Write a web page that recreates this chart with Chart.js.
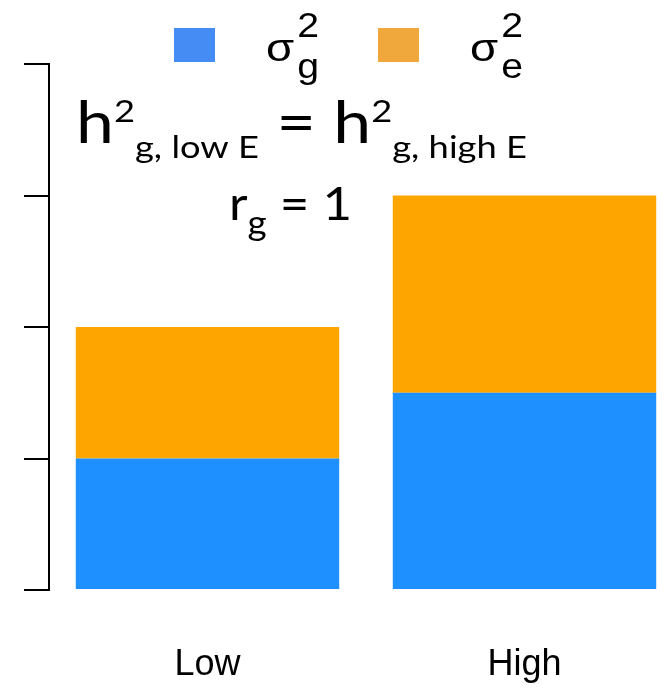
<!DOCTYPE html>
<html>
<head>
<meta charset="utf-8">
<script src="https://cdn.jsdelivr.net/npm/chart.js@4/dist/chart.umd.min.js"></script>
<style>
  html, body { margin: 0; padding: 0; background: #fff; overflow: hidden; }
  #wrap { position: relative; width: 700px; height: 742px; }
</style>
</head>
<body>
<div id="wrap"><canvas id="chart"></canvas></div>
<script>
// Environment groups on the x axis
const categories = ['Low', 'High'];
// Variance components stacked in each group
const geneticVariance = [1, 1.5];
const environmentalVariance = [1, 1.5];
// y-axis range (unlabelled tick marks every unit)
const yMin = 0;
const yMax = 4;
const yStep = 1;

// Legend symbols: sigma with superscript 2 and a subscript
const seriesSymbols = [
  { base: 'σ', sup: '2', sub: 'g' },
  { base: 'σ', sup: '2', sub: 'e' }
];
const barColors = ['#1E90FF', '#FFA500'];
const swatchColors = ['#468CF5', '#F0A83C'];

const ANNOT_FONT = 'Lato, "Open Sans", sans-serif';
const LEGEND_FONT = '"Liberation Sans", Arial, Helvetica, sans-serif';

// draw a sequence of text runs (for super/subscripts), optionally fitted to a width
function runsWidth(ctx, runs, family) {
  let w = 0;
  for (const r of runs) {
    ctx.font = r.size + 'px ' + family;
    w += ctx.measureText(r.text).width;
  }
  return w;
}
function drawRuns(ctx, x, runs, family, stretch) {
  ctx.save();
  ctx.translate(x, 0);
  ctx.scale(stretch, 1);
  ctx.fillStyle = '#000';
  ctx.textBaseline = 'alphabetic';
  ctx.textAlign = 'left';
  let cx = 0;
  for (const r of runs) {
    ctx.font = r.size + 'px ' + family;
    ctx.fillText(r.text, cx, r.y);
    cx += ctx.measureText(r.text).width;
  }
  ctx.restore();
}

// Heritability statement written above the bars
const annotationPlugin = {
  id: 'heritabilityText',
  afterDraw(chart) {
    const ctx = chart.ctx;
    const line1 = [
      { text: 'h', size: 58, y: 143 },
      { text: '2', size: 31, y: 122 },
      { text: 'g, low E', size: 31, y: 158 },
      { text: ' = ', size: 58, y: 143 },
      { text: 'h', size: 58, y: 143 },
      { text: '2', size: 31, y: 122 },
      { text: 'g, high E', size: 31, y: 158 }
    ];
    const line2 = [
      { text: 'r', size: 47, y: 220 },
      { text: 'g', size: 34, y: 235 },
      { text: ' = 1', size: 47, y: 220 }
    ];
    const l1x0 = 76, l1x1 = 527;
    const l2x0 = 229, l2x1 = 352;
    drawRuns(ctx, l1x0, line1, ANNOT_FONT, (l1x1 - l1x0) / runsWidth(ctx, line1, ANNOT_FONT));
    drawRuns(ctx, l2x0, line2, ANNOT_FONT, (l2x1 - l2x0) / runsWidth(ctx, line2, ANNOT_FONT));
  }
};

// Legend with sigma-squared symbols
const legendPlugin = {
  id: 'sigmaLegend',
  afterDraw(chart) {
    const ctx = chart.ctx;
    const startX = 174, gap = 204, boxW = 41, boxH = 34, boxY = 28;
    chart.data.datasets.forEach((ds, i) => {
      const x = startX + i * gap;
      ctx.save();
      ctx.fillStyle = swatchColors[i];
      ctx.fillRect(x, boxY, boxW, boxH);
      ctx.restore();
      const s = seriesSymbols[i];
      ctx.font = '38px ' + LEGEND_FONT;
      const baseW = ctx.measureText(s.base).width * 1.2;
      const tx = x + 92;
      drawRuns(ctx, tx, [{ text: s.base, size: 38, y: 61 }], LEGEND_FONT, 1.2);
      drawRuns(ctx, tx + baseW + 3, [{ text: s.sup, size: 35, y: 37 }], LEGEND_FONT, 1.12);
      drawRuns(ctx, tx + baseW + 3, [{ text: s.sub, size: 35, y: 78 }], LEGEND_FONT, 1.12);
    });
  }
};

new Chart(document.getElementById('chart'), {
  type: 'bar',
  data: {
    labels: categories,
    datasets: [
      { label: 'σ²g', data: geneticVariance, backgroundColor: barColors[0], borderWidth: 0 },
      { label: 'σ²e', data: environmentalVariance, backgroundColor: barColors[1], borderWidth: 0 }
    ]
  },
  options: {
    responsive: true,
    maintainAspectRatio: false,
    animation: false,
    events: [],
    barPercentage: 0.831,
    categoryPercentage: 1,
    layout: { padding: { left: 24, right: 17, top: 64, bottom: 2 } },
    plugins: {
      legend: { display: false },
      tooltip: { enabled: false }
    },
    scales: {
      x: {
        stacked: true,
        grid: { display: false, drawTicks: false },
        border: { display: false },
        ticks: {
          color: '#000',
          padding: 53.4,
          font: { family: LEGEND_FONT, size: 36 }
        }
      },
      y: {
        stacked: true,
        min: yMin,
        max: yMax,
        ticks: { display: false, stepSize: yStep },
        grid: { drawOnChartArea: false, drawTicks: true, tickLength: 25, color: '#000', lineWidth: 2 },
        border: { display: true, color: '#000', width: 2 }
      }
    }
  },
  plugins: [annotationPlugin, legendPlugin]
});
</script>
</body>
</html>
